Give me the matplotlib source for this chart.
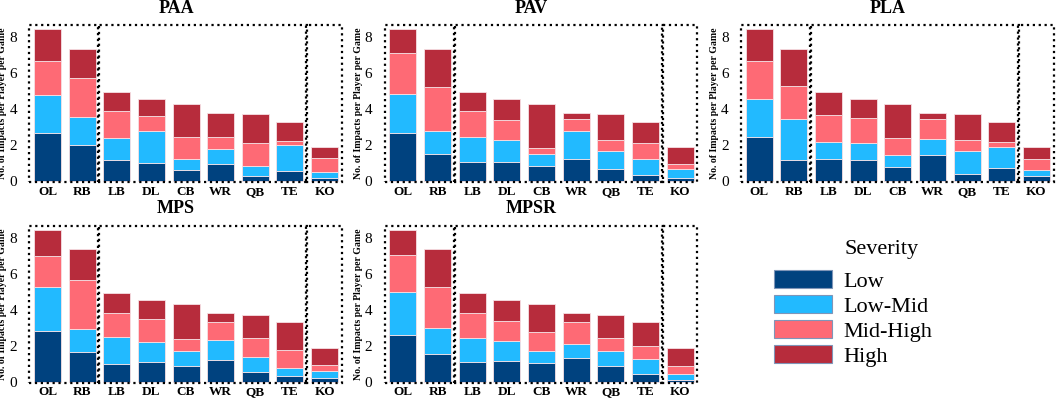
import matplotlib.pyplot as plt
from matplotlib.patches import Rectangle, Patch
import numpy

plt.rcParams['font.family'] = ['Liberation Serif', 'DejaVu Serif']

positions = ['OL', 'RB', 'LB', 'DL', 'CB', 'WR', 'QB', 'TE', 'KO']
severity = ['Low', 'Low-Mid', 'Mid-High', 'High']
colors = ['#00427f', '#22baff', '#fe6a75', '#b72c3c']

paa_low = [2.70, 2.00, 1.19, 1.04, 0.65, 0.98, 0.28, 0.56, 0.20]
paa_lowmid = [2.10, 1.56, 1.20, 1.76, 0.61, 0.80, 0.57, 1.44, 0.32]
paa_midhigh = [1.89, 2.16, 1.52, 0.81, 1.22, 0.68, 1.28, 0.26, 0.79]
paa_high = [1.76, 1.63, 1.04, 0.94, 1.82, 1.34, 1.59, 1.06, 0.59]

pav_low = [2.70, 1.50, 1.09, 1.07, 0.87, 1.22, 0.70, 0.37, 0.19]
pav_lowmid = [2.17, 1.28, 1.35, 1.21, 0.67, 1.56, 1.00, 0.87, 0.48]
pav_midhigh = [2.24, 2.44, 1.45, 1.13, 0.33, 0.66, 0.58, 0.87, 0.31]
pav_high = [1.34, 2.13, 1.06, 1.14, 2.43, 0.36, 1.44, 1.21, 0.92]

pla_low = [2.48, 1.20, 1.26, 1.19, 0.80, 1.44, 0.43, 0.74, 0.30]
pla_lowmid = [2.09, 2.24, 0.94, 0.96, 0.64, 0.89, 1.27, 1.19, 0.35]
pla_midhigh = [2.13, 1.86, 1.49, 1.37, 0.97, 1.11, 0.58, 0.26, 0.61]
pla_high = [1.75, 2.05, 1.26, 1.03, 1.89, 0.36, 1.44, 1.13, 0.64]

mps_low = [2.83, 1.65, 1.00, 1.07, 0.85, 1.22, 0.55, 0.30, 0.18]
mps_lowmid = [2.42, 1.27, 1.51, 1.15, 0.87, 1.09, 0.85, 0.44, 0.43]
mps_midhigh = [1.72, 2.72, 1.33, 1.25, 0.66, 1.02, 1.02, 1.00, 0.30]
mps_high = [1.48, 1.71, 1.11, 1.08, 1.92, 0.47, 1.30, 1.58, 0.99]

mpsr_low = [2.59, 1.55, 1.09, 1.13, 1.06, 1.33, 0.85, 0.43, 0.09]
mpsr_lowmid = [2.37, 1.45, 1.32, 1.13, 0.66, 0.76, 0.85, 0.83, 0.35]
mpsr_midhigh = [2.07, 2.29, 1.40, 1.11, 1.02, 1.24, 0.71, 0.72, 0.45]
mpsr_high = [1.42, 2.06, 1.14, 1.18, 1.56, 0.47, 1.31, 1.34, 1.01]

panels = [
    ('PAA', [paa_low, paa_lowmid, paa_midhigh, paa_high]),
    ('PAV', [pav_low, pav_lowmid, pav_midhigh, pav_high]),
    ('PLA', [pla_low, pla_lowmid, pla_midhigh, pla_high]),
    ('MPS', [mps_low, mps_lowmid, mps_midhigh, mps_high]),
    ('MPSR', [mpsr_low, mpsr_lowmid, mpsr_midhigh, mpsr_high]),
]

# position groups (first, last index) framed by dotted boxes
groups = [(0, 1), (2, 7), (8, 8)]

fig = plt.figure(figsize=(10.59, 3.98), dpi=100)
lefts = [0.0252, 0.3609, 0.6974]
bottoms = [0.540, 0.0364]
w = 0.3026
h = 0.400

x = numpy.arange(len(positions))
for k, (name, segs) in enumerate(panels):
    ax = fig.add_axes([lefts[k % 3], bottoms[k // 3], w, h])
    base = numpy.zeros(len(positions))
    for s in range(4):
        ax.bar(x, segs[s], 0.78, bottom=base, color=colors[s],
               edgecolor='#f6e0e4', linewidth=0.6)
        base = base + numpy.array(segs[s])
    for g0, g1 in groups:
        r = Rectangle((g0 - 0.53, -0.06), (g1 - g0) + 1.03, 8.74,
                      fill=False, linestyle=':', linewidth=1.6,
                      edgecolor='black', clip_on=False)
        ax.add_patch(r)
    ax.set_xlim(-0.6, 8.65)
    ax.set_ylim(-0.1, 8.75)
    ax.set_yticks([0, 2, 4, 6, 8])
    ax.set_xticks(x)
    ax.set_xticklabels(positions, fontweight='bold', fontsize=9.5)
    ax.tick_params(axis='y', length=0, pad=7, labelsize=11)
    ax.tick_params(axis='x', length=0, pad=2)
    for sp in ax.spines.values():
        sp.set_visible(False)
    ax.set_ylabel('No. of Impacts per Player per Game', fontweight='bold',
                  fontsize=7)
    ax.yaxis.set_label_coords(-0.06, 0.5)
    ax.set_title(name, fontweight='bold', fontsize=13, x=0.466, pad=8)

handles = [Patch(facecolor=colors[s], edgecolor='#7f95b8', linewidth=0.8)
           for s in range(4)]
fig.legend(handles, severity, loc='upper left', bbox_to_anchor=(0.7305, 0.322),
           frameon=False, fontsize=16, handlelength=2.65, handleheight=0.9,
           handletextpad=0.5, labelspacing=0.14, borderaxespad=0,
           borderpad=0)
fig.text(0.797, 0.374, 'Severity', fontsize=16, va='center', ha='left')

fig.savefig('out.png', dpi=100)
